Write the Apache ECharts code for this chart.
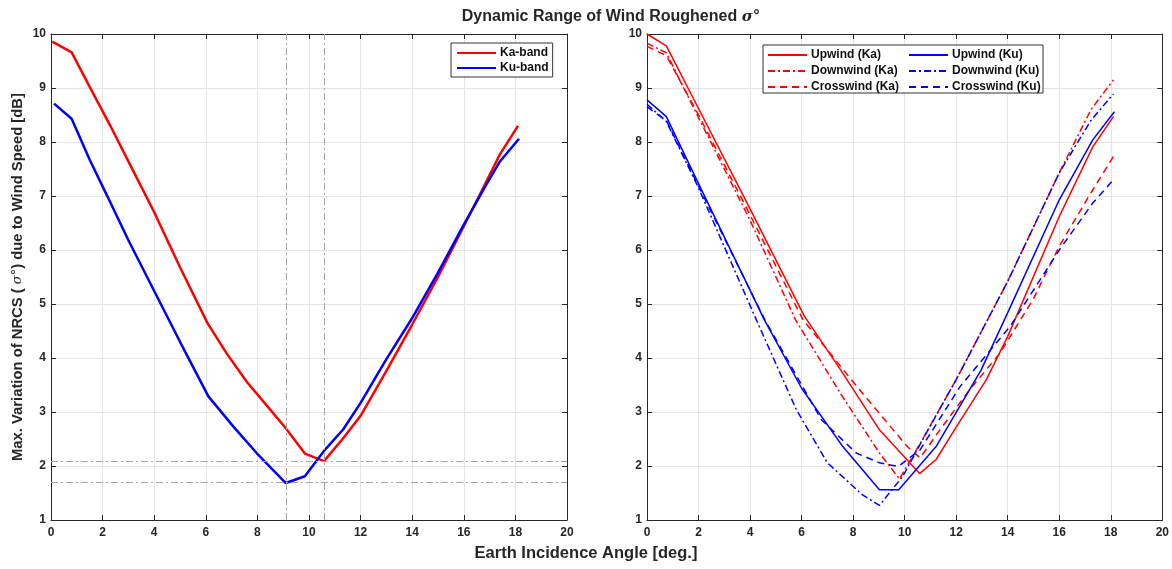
<!DOCTYPE html>
<html>
<head>
<meta charset="utf-8">
<script src="https://cdn.jsdelivr.net/npm/echarts@6/dist/echarts.min.js"></script>
<style>
html,body{margin:0;padding:0;background:#fff;}
#chart{width:1172px;height:569px;}
</style>
</head>
<body>
<div id="chart"></div>
<script>
// ---------- tick labels ----------
const xTicks = [0, 2, 4, 6, 8, 10, 12, 14, 16, 18, 20];
const yTicks = [1, 2, 3, 4, 5, 6, 7, 8, 9, 10];

// ---------- left panel: Ka / Ku band ----------
const kaAngle = [0.05, 0.8, 1.5, 2.3, 3.0, 4.0, 5.0, 6.06, 6.8, 7.6, 8.4, 9.1, 9.84, 10.58, 11.3, 12.0, 13.0, 14.0, 15.0, 16.0, 16.8, 17.4, 18.1];
const kaValue = [9.86, 9.66, 9.02, 8.30, 7.64, 6.70, 5.68, 4.65, 4.09, 3.55, 3.10, 2.70, 2.23, 2.09, 2.50, 2.93, 3.76, 4.62, 5.50, 6.44, 7.20, 7.77, 8.30];
const kuAngle = [0.12, 0.8, 1.5, 2.2, 3.0, 4.0, 5.0, 6.1, 7.07, 7.97, 9.1, 9.84, 10.58, 11.33, 12.0, 13.0, 14.0, 15.0, 16.0, 16.8, 17.4, 18.14];
const kuValue = [8.71, 8.43, 7.67, 6.98, 6.18, 5.24, 4.30, 3.29, 2.73, 2.24, 1.685, 1.81, 2.28, 2.68, 3.17, 3.98, 4.74, 5.58, 6.47, 7.15, 7.64, 8.06];
// reference (dash-dot) lines at the two minima
const refAngles = [9.1, 10.58];
const refValues = [2.09, 1.685];

// ---------- right panel: wind direction ----------
const upKaAngle = [0, 0.75, 2, 4, 6.1, 7.5, 9.02, 10.58, 11.22, 12.0, 13.17, 14.0, 16.0, 17.3, 18.1];
const upKaValue = [10.0, 9.78, 8.62, 6.76, 4.78, 3.79, 2.67, 1.86, 2.12, 2.72, 3.60, 4.40, 6.62, 7.91, 8.47];
const downKaAngle = [0, 0.75, 2, 4, 5.76, 7.5, 9.02, 9.8, 10.7, 12.0, 14.0, 16.0, 17.23, 18.1];
const downKaValue = [9.83, 9.65, 8.45, 6.55, 4.71, 3.35, 2.24, 1.76, 2.50, 3.60, 5.42, 7.43, 8.60, 9.15];
const crossKaAngle = [0, 0.75, 2, 4, 6.05, 8.15, 10.1, 10.6, 11.37, 12.5, 13.7, 15.0, 16.0, 17.23, 18.1];
const crossKaValue = [9.77, 9.60, 8.50, 6.65, 4.71, 3.47, 2.36, 2.15, 2.67, 3.40, 4.09, 5.10, 6.07, 7.06, 7.73];
const upKuAngle = [0, 0.75, 2, 4.55, 6.0, 7.6, 9.02, 9.77, 11.22, 12.97, 14.0, 16.0, 17.3, 18.14];
const upKuValue = [8.78, 8.47, 7.23, 4.71, 3.44, 2.36, 1.56, 1.56, 2.36, 3.78, 4.84, 6.93, 8.04, 8.56];
const downKuAngle = [0, 0.75, 2, 4.24, 5.8, 7.0, 8.35, 9.02, 9.93, 10.7, 12.0, 14.0, 16.0, 17.23, 18.1];
const downKuValue = [8.70, 8.38, 7.15, 4.71, 3.04, 2.06, 1.47, 1.27, 1.81, 2.49, 3.60, 5.42, 7.43, 8.40, 8.89];
const crossKuAngle = [0, 0.75, 2, 4.57, 6.76, 8.12, 9.02, 9.75, 10.6, 12.15, 14.1, 16.0, 17.3, 18.1];
const crossKuValue = [8.65, 8.40, 7.18, 4.71, 2.86, 2.24, 2.06, 1.99, 2.30, 3.47, 4.59, 6.00, 6.87, 7.30];

const zip = (a, b) => a.map((v, i) => [v, b[i]]);

const FONT = 'Liberation Sans';
const AX = '#262626';
const GRID = '#e3e3e3';
const RED = '#ff0000';
const BLUE = '#0000ff';
const DASHDOT = [7, 3, 2, 3];
const DASHED = [7, 5];

const grids = [
  {left: 51, top: 34, width: 516, height: 486},
  {left: 647, top: 34, width: 516, height: 486}
];

function xAxes(gi) {
  return [
    {type: 'value', gridIndex: gi, min: 0, max: 20, interval: 2, position: 'bottom',
     axisLine: {show: true, onZero: false, lineStyle: {color: AX, width: 1}},
     axisTick: {show: true, inside: true, length: 5, lineStyle: {color: AX}},
     axisLabel: {show: true, margin: 7, color: AX, fontFamily: FONT, fontWeight: 'bold', fontSize: 12,
                 formatter: v => xTicks.includes(v) ? String(v) : ''},
     splitLine: {show: true, lineStyle: {color: GRID, width: 1}}},
    {type: 'value', gridIndex: gi, min: 0, max: 20, interval: 2, position: 'top',
     axisLine: {show: true, onZero: false, lineStyle: {color: AX, width: 1}},
     axisTick: {show: true, inside: true, length: 5, lineStyle: {color: AX}},
     axisLabel: {show: false}, splitLine: {show: false}}
  ];
}
function yAxes(gi, withName) {
  const a = {type: 'value', gridIndex: gi, min: 1, max: 10, interval: 1, position: 'left',
     axisLine: {show: true, onZero: false, lineStyle: {color: AX, width: 1}},
     axisTick: {show: true, inside: true, length: 5, lineStyle: {color: AX}},
     axisLabel: {show: true, margin: 5, color: AX, fontFamily: FONT, fontWeight: 'bold', fontSize: 12,
                 formatter: v => yTicks.includes(v) ? String(v) : ''},
     splitLine: {show: true, lineStyle: {color: GRID, width: 1}}};
  if (withName) {
    a.name = '{t|Max. Variation of NRCS ( }{s|σ°}{t|) due to Wind Speed [dB]}';
    a.nameLocation = 'middle';
    a.nameGap = 26;
    a.nameRotate = 90;
    a.nameTextStyle = {rich: {
      t: {fontFamily: FONT, fontWeight: 'bold', fontSize: 14.8, color: AX},
      s: {fontFamily: 'DejaVu Serif', fontStyle: 'italic', fontSize: 13, color: AX}
    }};
  }
  return [a,
    {type: 'value', gridIndex: gi, min: 1, max: 10, interval: 1, position: 'right',
     axisLine: {show: true, onZero: false, lineStyle: {color: AX, width: 1}},
     axisTick: {show: true, inside: true, length: 5, lineStyle: {color: AX}},
     axisLabel: {show: false}, splitLine: {show: false}}];
}

function line(name, xi, yi, angles, values, color, width, type, extra) {
  return Object.assign({
    name, type: 'line', xAxisIndex: xi, yAxisIndex: yi,
    data: zip(angles, values), showSymbol: false, symbol: 'none', silent: true,
    lineStyle: {color, width, type}, itemStyle: {color}, animation: false, z: 3
  }, extra || {});
}

const legendText = {fontFamily: FONT, fontWeight: 'bold', fontSize: 12, color: '#111', padding: [0, 0, 0, -1]};
const refStyle = {color: '#a6a6a6', width: 1, type: DASHDOT};
const option = {
  animation: false,
  backgroundColor: '#fff',
  title: {
    text: '{t|Dynamic Range of Wind Roughened }{s|σ°}',
    left: 606, top: 4, textAlign: 'center',
    textStyle: {rich: {
      t: {fontFamily: FONT, fontWeight: 'bold', fontSize: 16, color: AX},
      s: {fontFamily: 'DejaVu Serif', fontStyle: 'italic', fontSize: 15, color: AX}
    }}
  },
  grid: grids,
  xAxis: [...xAxes(0), ...xAxes(1)],
  yAxis: [...yAxes(0, true), ...yAxes(1, false)],
  graphic: [
    {type: 'text', left: 'center', top: 545, z: 10,
     style: {text: 'Earth Incidence Angle [deg.]', fontFamily: FONT, fontWeight: 'bold', fontSize: 16.5, fill: AX}},
    {type: 'rect', shape: {x: 763, y: 45, width: 280, height: 48}, z: 9,
     style: {fill: '#fff', stroke: '#333', lineWidth: 1}}
  ],
  legend: [
    {data: ['Ka-band', 'Ku-band'], orient: 'vertical', left: 451, top: 43,
     itemWidth: 39, itemHeight: 10, itemGap: 3, padding: [4, 4, 3, 5],
     borderColor: '#333', borderWidth: 1, backgroundColor: '#fff',
     itemStyle: {opacity: 0}, textStyle: legendText},
    {data: ['Upwind (Ka)', 'Downwind (Ka)', 'Crosswind (Ka)'], orient: 'vertical', left: 767, top: 49, z: 12,
     itemWidth: 39, itemHeight: 10, itemGap: 4, padding: 0,
     itemStyle: {opacity: 0}, textStyle: legendText},
    {data: ['Upwind (Ku)', 'Downwind (Ku)', 'Crosswind (Ku)'], orient: 'vertical', left: 908, top: 49, z: 12,
     itemWidth: 39, itemHeight: 10, itemGap: 4, padding: 0,
     itemStyle: {opacity: 0}, textStyle: legendText}
  ],
  series: [
    line('Ka-band', 0, 0, kaAngle, kaValue, RED, 2.5, 'solid', {
      markLine: {silent: true, symbol: 'none', label: {show: false}, animation: false, lineStyle: refStyle,
        data: [...refAngles.map(v => ({xAxis: v})), ...refValues.map(v => ({yAxis: v}))]}
    }),
    line('Ku-band', 0, 0, kuAngle, kuValue, BLUE, 2.5, 'solid'),
    line('Upwind (Ka)', 2, 2, upKaAngle, upKaValue, RED, 1.5, 'solid'),
    line('Downwind (Ka)', 2, 2, downKaAngle, downKaValue, RED, 1.5, DASHDOT),
    line('Crosswind (Ka)', 2, 2, crossKaAngle, crossKaValue, RED, 1.5, DASHED),
    line('Upwind (Ku)', 2, 2, upKuAngle, upKuValue, BLUE, 1.5, 'solid'),
    line('Downwind (Ku)', 2, 2, downKuAngle, downKuValue, BLUE, 1.5, DASHDOT),
    line('Crosswind (Ku)', 2, 2, crossKuAngle, crossKuValue, BLUE, 1.5, DASHED)
  ]
};
const chart = echarts.init(document.getElementById('chart'), null, {renderer: 'canvas'});
chart.setOption(option);
</script>
</body>
</html>
